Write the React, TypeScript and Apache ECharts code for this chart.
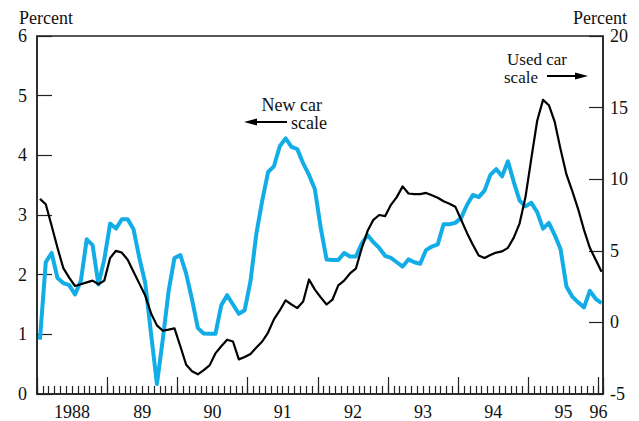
import React, { useEffect, useRef } from "react";
import * as echarts from "echarts";

// Monthly observations, Jan 1988 .. Jan 1996 (index 0 = Jan 1988)
const newCarPct: number[] = [
  3.27, 3.18, 2.82, 2.45, 2.11, 1.95, 1.81, 1.84, 1.87, 1.9, 1.84, 1.9,
  2.28, 2.4, 2.37, 2.25, 2.05, 1.85, 1.65, 1.35, 1.15, 1.06, 1.08, 1.1,
  0.8, 0.49, 0.38, 0.33, 0.4, 0.48, 0.68, 0.8, 0.91, 0.88, 0.58, 0.62,
  0.67, 0.78, 0.88, 1.03, 1.25, 1.4, 1.57, 1.5, 1.44, 1.55, 1.92, 1.75,
  1.62, 1.5, 1.58, 1.82, 1.9, 2.02, 2.1, 2.44, 2.73, 2.92, 3.0, 2.98,
  3.17, 3.3, 3.48, 3.36, 3.35, 3.35, 3.37, 3.33, 3.29, 3.23, 3.19, 3.14,
  2.92, 2.7, 2.5, 2.32, 2.28, 2.33, 2.37, 2.39, 2.45, 2.62, 2.86, 3.3,
  3.95, 4.58, 4.93, 4.84, 4.56, 4.1, 3.68, 3.4, 3.1, 2.75, 2.45, 2.25,
  2.05,
];

const usedCarPct: number[] = [
  -1.2, 4.2, 4.85, 3.1, 2.75, 2.6, 1.95, 2.9, 5.8, 5.4, 2.65, 4.4,
  6.9, 6.55, 7.2, 7.2, 6.5, 4.5, 2.75, -0.8, -4.3, -1.2, 2.2, 4.5,
  4.7, 3.4, 1.6, -0.4, -0.78, -0.8, -0.8, 1.2, 1.9, 1.25, 0.6, 0.85,
  2.9, 6.2, 8.5, 10.5, 10.9, 12.3, 12.85, 12.25, 12.1, 11.1, 10.3, 9.3,
  6.6, 4.4, 4.35, 4.35, 4.85, 4.6, 4.6, 5.5, 6.1, 5.6, 5.2, 4.65,
  4.5, 4.2, 3.9, 4.4, 4.2, 4.1, 5.05, 5.3, 5.45, 6.85, 6.85, 6.95,
  7.3, 8.2, 8.9, 8.75, 9.2, 10.3, 10.7, 10.2, 11.25, 9.8, 8.5, 8.1,
  8.35, 7.7, 6.55, 6.95, 6.1, 5.1, 2.5, 1.8, 1.4, 1.05, 2.2, 1.65,
  1.35,
];

const yearLabels: string[] = ["1988", "89", "90", "91", "92", "93", "94", "95"];
const endLabel = "96";
const leftTicks = { min: 0, max: 6, interval: 1 };
const rightTicks = { min: -5, max: 20, interval: 5 };

const FONT = "'Liberation Serif', 'Times New Roman', serif";
const AXIS_COLOR = "#222";

export default function App() {
  const ref = useRef<HTMLDivElement>(null);

  useEffect(() => {
    if (!ref.current) return;
    const chart = echarts.init(ref.current, undefined, { renderer: "svg" });

    const xMax = 96.75;
    const newData = newCarPct.map((v, i) => [i + 0.5, v]);
    const usedData = usedCarPct.map((v, i) => [i + 0.5, v]);

    const baseX = {
      type: "value" as const,
      gridIndex: 0,
      min: 0,
      max: xMax,
      position: "bottom" as const,
      splitLine: { show: false },
    };

    chart.setOption({
      animation: false,
      grid: {
        left: 37,
        right: 36,
        top: 36,
        bottom: 26.5,
        show: true,
        borderColor: AXIS_COLOR,
        borderWidth: 1.5,
        backgroundColor: "transparent",
      },
      xAxis: [
        {
          ...baseX,
          interval: 12,
          axisLine: { show: true, onZero: false, lineStyle: { color: AXIS_COLOR, width: 1.5 } },
          axisTick: { show: true, inside: true, length: 17, lineStyle: { color: AXIS_COLOR, width: 1.2 } },
          axisLabel: { show: false },
        },
        {
          ...baseX,
          interval: 1,
          axisLine: { show: false, onZero: false },
          axisTick: { show: true, inside: true, length: 8, lineStyle: { color: AXIS_COLOR, width: 1.2 } },
          axisLabel: { show: false },
        },
        {
          ...baseX,
          interval: 6,
          axisLine: { show: false, onZero: false },
          axisTick: { show: false },
          axisLabel: {
            show: true,
            margin: 9,
            fontFamily: FONT,
            fontSize: 18,
            color: "#111",
            formatter: (v: number) => {
              const r = Math.round(v);
              if (Math.abs(v - r) > 1e-6) return "";
              if (r === 96) return endLabel;
              if (r % 12 === 6) return yearLabels[(r - 6) / 12] ?? "";
              return "";
            },
          },
        },
      ],
      yAxis: [
        {
          type: "value",
          position: "left",
          ...leftTicks,
          splitLine: { show: false },
          axisLine: { show: true, onZero: false, lineStyle: { color: AXIS_COLOR, width: 1.5 } },
          axisTick: { show: true, inside: true, length: 15, lineStyle: { color: AXIS_COLOR, width: 1.2 } },
          axisLabel: { margin: 10, fontFamily: FONT, fontSize: 18, color: "#111" },
        },
        {
          type: "value",
          position: "right",
          ...rightTicks,
          splitLine: { show: false },
          axisLine: { show: true, onZero: false, lineStyle: { color: AXIS_COLOR, width: 1.5 } },
          axisTick: { show: true, inside: true, length: 14, lineStyle: { color: AXIS_COLOR, width: 1.2 } },
          axisLabel: { margin: 7, fontFamily: FONT, fontSize: 18, color: "#111" },
        },
      ],
      series: [
        {
          name: "Used car",
          type: "line",
          xAxisIndex: 0,
          yAxisIndex: 1,
          data: usedData,
          showSymbol: false,
          symbol: "none",
          lineStyle: { color: "#12ace6", width: 4, join: "round" },
          z: 2,
        },
        {
          name: "New car",
          type: "line",
          xAxisIndex: 0,
          yAxisIndex: 0,
          data: newData,
          showSymbol: false,
          symbol: "none",
          lineStyle: { color: "#000", width: 2.2, join: "round" },
          z: 3,
        },
      ],
      graphic: [
        { type: "text", left: 19, top: 9, style: { text: "Percent", font: `18px ${FONT}`, fill: "#111" } },
        { type: "text", left: 573, top: 9, style: { text: "Percent", font: `18px ${FONT}`, fill: "#111" } },
        { type: "text", x: 322, y: 105, style: { text: "New car", font: `18px ${FONT}`, fill: "#111", align: "right", verticalAlign: "middle" } },
        { type: "text", x: 327, y: 123, style: { text: "scale", font: `18px ${FONT}`, fill: "#111", align: "right", verticalAlign: "middle" } },
        { type: "line", shape: { x1: 254, y1: 122, x2: 287, y2: 122 }, style: { stroke: "#000", lineWidth: 2 } },
        { type: "polygon", shape: { points: [[244, 122], [257, 118.5], [257, 125.5]] }, style: { fill: "#000" } },
        { type: "text", x: 507, y: 59, style: { text: "Used car", font: `17px ${FONT}`, fill: "#111", align: "left", verticalAlign: "middle" } },
        { type: "text", x: 504, y: 77, style: { text: "scale", font: `17px ${FONT}`, fill: "#111", align: "left", verticalAlign: "middle" } },
        { type: "line", shape: { x1: 547, y1: 76, x2: 580, y2: 76 }, style: { stroke: "#000", lineWidth: 2 } },
        { type: "polygon", shape: { points: [[588, 76], [575, 72.5], [575, 79.5]] }, style: { fill: "#000" } },
      ],
    });

    return () => chart.dispose();
  }, []);

  return (
    <div
      ref={ref}
      style={{ position: "fixed", left: 0, top: 0, width: 639, height: 421, background: "#fff" }}
    />
  );
}
